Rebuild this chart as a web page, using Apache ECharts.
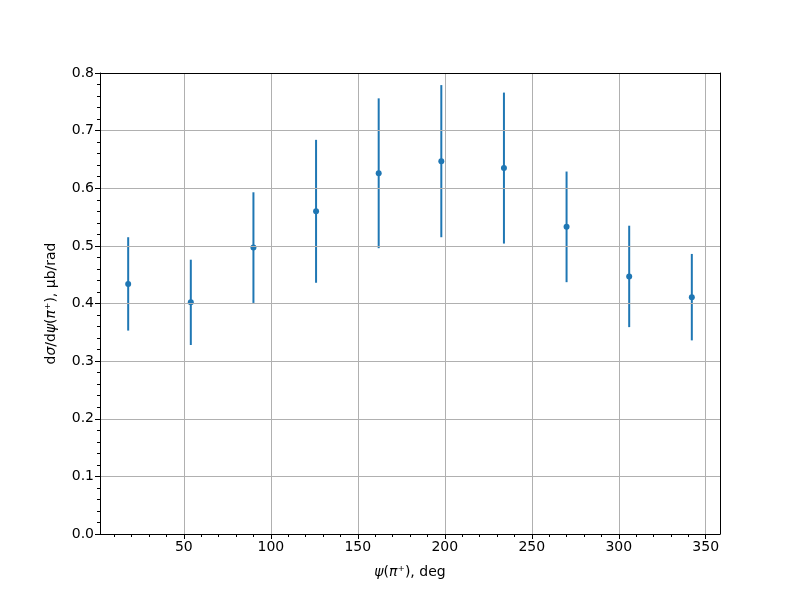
<!DOCTYPE html>
<html>
<head>
<meta charset="utf-8">
<script src="https://cdn.jsdelivr.net/npm/echarts@6/dist/echarts.min.js"></script>
<style>html,body{margin:0;padding:0;background:#fff}#c{width:800px;height:600px}</style>
</head>
<body>
<div id="c"></div>
<script>
// Data
var psiDeg = [18, 54, 90, 126, 162, 198, 234, 270, 306, 342];
var dsigma = [0.434, 0.402, 0.497, 0.560, 0.626, 0.647, 0.635, 0.533, 0.447, 0.411];
var dsigmaErr = [0.081, 0.074, 0.096, 0.124, 0.130, 0.132, 0.131, 0.096, 0.088, 0.075];
var xMajorTicks = [50, 100, 150, 200, 250, 300, 350];
var xMinorTicks = [10, 20, 30, 40, 60, 70, 80, 90, 110, 120, 130, 140, 160, 170, 180, 190, 210, 220, 230, 240, 260, 270, 280, 290, 310, 320, 330, 340];

var FONT = 'DejaVu Sans';
var BLUE = '#1f77b4';
var pts = psiDeg.map(function (x, i) { return [x, dsigma[i]]; });
var errs = psiDeg.map(function (x, i) { return [x, dsigma[i] - dsigmaErr[i], dsigma[i] + dsigmaErr[i]]; });

var chart = echarts.init(document.getElementById('c'), null, {renderer: 'canvas'});
chart.setOption({
  animation: false,
  backgroundColor: '#fff',
  grid: {left: 100, right: 80, top: 73, bottom: 66, show: false},
  xAxis: [{
    type: 'value', min: 1.8, max: 358.2,
    axisLine: {show: true, onZero: false, lineStyle: {color: '#000', width: 1}},
    axisTick: {show: true, length: 5, inside: false, customValues: xMajorTicks, lineStyle: {color: '#000', width: 1}},
    axisLabel: {customValues: xMajorTicks, color: '#000', fontFamily: FONT, fontSize: 14, margin: 6},
    splitLine: {show: true, lineStyle: {color: '#b0b0b0', width: 1}},
    name: '{it|ψ}({it|π}⁺), deg',
    nameLocation: 'middle', nameGap: 31,
    nameTextStyle: {color: '#000', fontFamily: FONT, fontSize: 14, rich: {it: {fontStyle: 'italic', fontFamily: FONT, fontSize: 14}}},
    z: 5
  }, {
    type: 'value', min: 1.8, max: 358.2, position: 'bottom', gridIndex: 0,
    axisLine: {show: false},
    axisTick: {show: true, length: 3, customValues: xMinorTicks, lineStyle: {color: '#000', width: 1}},
    axisLabel: {show: false},
    splitLine: {show: false}
  }, {
    type: 'value', min: 1.8, max: 358.2, position: 'top', gridIndex: 0,
    axisLine: {show: true, onZero: false, lineStyle: {color: '#000', width: 1}},
    axisTick: {show: false}, axisLabel: {show: false}, splitLine: {show: false},
    z: 5
  }],
  yAxis: [{
    type: 'value', min: 0, max: 0.8, interval: 0.1,
    axisLine: {show: true, onZero: false, lineStyle: {color: '#000', width: 1}},
    axisTick: {show: true, length: 5, lineStyle: {color: '#000', width: 1}},
    minorTick: {show: true, splitNumber: 5, length: 3, lineStyle: {color: '#000', width: 1}},
    axisLabel: {color: '#000', fontFamily: FONT, fontSize: 14, margin: 6, formatter: function (v) { return v.toFixed(1); }},
    splitLine: {show: true, lineStyle: {color: '#b0b0b0', width: 1}},
    name: 'd{it|σ}/d{it|ψ}({it|π}⁺), μb/rad',
    nameLocation: 'middle', nameGap: 42,
    nameTextStyle: {color: '#000', fontFamily: FONT, fontSize: 14, rich: {it: {fontStyle: 'italic', fontFamily: FONT, fontSize: 14}}},
    z: 5
  }, {
    type: 'value', min: 0, max: 0.8, position: 'right',
    axisLine: {show: true, onZero: false, lineStyle: {color: '#000', width: 1}},
    axisTick: {show: false}, axisLabel: {show: false}, splitLine: {show: false},
    z: 5
  }],
  series: [{
    type: 'custom',
    xAxisIndex: 0, yAxisIndex: 0,
    data: errs,
    renderItem: function (params, api) {
      var x = api.value(0);
      var lo = api.coord([x, api.value(1)]);
      var hi = api.coord([x, api.value(2)]);
      return {type: 'line', shape: {x1: lo[0], y1: lo[1], x2: hi[0], y2: hi[1]}, style: {stroke: BLUE, lineWidth: 2}};
    },
    z: 3
  }, {
    type: 'scatter',
    xAxisIndex: 0, yAxisIndex: 0,
    data: pts,
    symbol: 'circle', symbolSize: 6,
    itemStyle: {color: BLUE, opacity: 1},
    z: 4
  }]
});
</script>
</body>
</html>
